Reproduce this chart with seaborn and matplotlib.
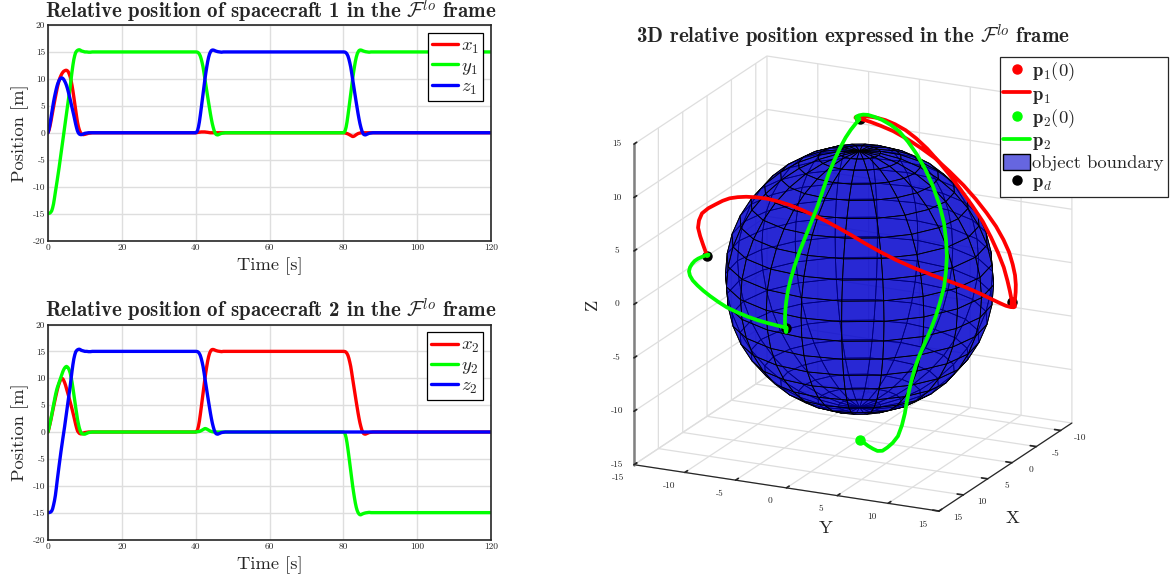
import matplotlib
matplotlib.use("Agg")

import matplotlib.pyplot as plt
from matplotlib.lines import Line2D
from matplotlib.patches import Patch
from mpl_toolkits.mplot3d import proj3d
import numpy as np
import pandas as pd
import seaborn as sns

# ── Data ──
t_start = [0, 0.25, 0.5, 0.75, 1, 1.25, 1.5, 1.75, 2, 2.25, 2.5, 2.75, 3, 3.25, 3.5, 3.75, 4, 4.25, 4.5,
           4.75, 5, 5.25, 5.5, 5.75, 6, 6.25, 6.5, 6.75, 7, 7.25, 7.5, 7.75, 8, 8.25, 8.5, 8.75, 9,
           9.5, 10, 10.5, 11, 11.5, 12]
t_hold1 = [16, 25, 32, 38, 39.5]
t_step1 = [40, 40.25, 40.5, 40.75, 41, 41.25, 41.5, 41.75, 42, 42.25, 42.5, 42.75, 43, 43.25, 43.5,
           43.75, 44, 44.25, 44.5, 44.75, 45, 45.25, 45.5, 45.75, 46, 46.5, 47, 47.5, 48]
t_hold2 = [52, 60, 70, 78, 79.5]
t_step2 = [80, 80.25, 80.5, 80.75, 81, 81.25, 81.5, 81.75, 82, 82.25, 82.5, 82.75, 83, 83.25, 83.5,
           83.75, 84, 84.25, 84.5, 84.75, 85, 85.25, 85.5, 85.75, 86, 86.5, 87, 87.5, 88]
t_hold3 = [92, 100, 110, 120]
time = t_start + t_hold1 + t_step1 + t_hold2 + t_step2 + t_hold3

rise = [0, 0.1, 0.4, 1.05, 2, 3.2, 4.5, 5.85, 7.2, 8.55, 9.9, 11.1, 12.2, 13.2, 14, 14.6, 15, 15.25, 15.35,
        15.35, 15.3, 15.22, 15.15, 15.1, 15.05, 15, 14.95, 15, 15]
fall = [15, 14.99, 14.95, 14.83, 14.6, 14.25, 13.7, 13, 12.2, 11.15, 10, 8.9, 7.8, 6.7, 5.6, 4.55, 3.5, 2.55,
        1.7, 1, 0.4, -0.02, -0.3, -0.38, -0.4, -0.25, -0.1, -0.05, 0]
zero_step = [0] * 29

x1_start = [0, 0.45, 1.1, 1.95, 2.9, 3.85, 4.8, 5.7, 6.6, 7.45, 8.3, 9.05, 9.7, 10.2, 10.6, 10.95, 11.2, 11.4,
            11.5, 11.58, 11.6, 11.5, 11.3, 10.9, 10.4, 9.7, 8.8, 7.75, 6.6, 5.4, 4.2, 3, 1.9, 1.1, 0.5, 0.1, -0.2,
            -0.35, -0.3, -0.2, -0.1, -0.05, 0]
y1_start = [-15, -14.97, -14.9, -14.75, -14.5, -13.95, -13.2, -12.15, -11, -9.9, -8.8, -7.65, -6.5, -5.25, -4,
            -2.75, -1.5, -0.25, 1, 2.25, 3.5, 4.75, 6, 7.25, 8.5, 9.9, 11.3, 12.55, 13.6, 14.35, 14.9, 15.15,
            15.3, 15.38, 15.4, 15.33, 15.2, 15.1, 15, 15, 14.95, 14.95, 15]
z1_start = [0, 0.65, 1.5, 2.5, 3.6, 4.65, 5.7, 6.6, 7.4, 8.15, 8.8, 9.3, 9.7, 9.98, 10.15, 10.18, 10.1, 9.9, 9.6,
            9.25, 8.8, 8.25, 7.6, 6.9, 6.2, 5.45, 4.7, 3.95, 3.2, 2.4, 1.6, 0.9, 0.3, -0.05, -0.25, -0.33, -0.35,
            -0.25, -0.1, -0.05, 0, 0, 0]
x1_bump = [0, 0.02, 0.05, 0.08, 0.1, 0.12, 0.15, 0.15, 0.15, 0.15, 0.15, 0.12, 0.1, 0.08, 0.05, 0.02,
           0, 0, 0, 0, 0, 0, 0, 0, 0, 0, 0, 0, 0]
x1_dip = [0, -0.02, -0.05, -0.1, -0.15, -0.22, -0.3, -0.4, -0.5, -0.6, -0.7, -0.68, -0.6, -0.48, -0.35, -0.25,
          -0.15, -0.1, -0.05, -0.02, 0, 0, 0, 0, 0, 0, 0, 0, 0]

x2_start = [0, 0.65, 1.4, 2.15, 3, 3.85, 4.7, 5.5, 6.3, 7.05, 7.8, 8.45, 9, 9.45, 9.8, 9.95, 9.9, 9.6, 9.2, 8.7,
            8.1, 7.5, 6.9, 6.25, 5.6, 4.95, 4.3, 3.6, 2.9, 2.15, 1.4, 0.75, 0.2, -0.05, -0.25, -0.33, -0.35,
            -0.2, -0.1, -0.05, 0, 0, 0]
y2_start = [0, 0.75, 1.5, 2.35, 3.2, 4.1, 5, 5.9, 6.8, 7.55, 8.2, 8.7, 9.2, 9.7, 10.2, 10.7, 11.2, 11.6, 11.9,
            12.1, 12.2, 12.1, 11.9, 11.5, 11, 10.25, 9.3, 8.2, 7, 5.8, 4.6, 3.45, 2.3, 1.45, 0.7, 0.2, -0.2,
            -0.4, -0.4, -0.25, -0.1, -0.05, 0]
z2_start = [-15, -15, -14.95, -14.88, -14.7, -14.3, -13.6, -12.8, -11.8, -10.45, -9, -7.65, -6.3, -5, -3.7, -2.5,
            -1.3, -0.15, 1, 2.25, 3.5, 4.75, 6, 7.25, 8.5, 9.9, 11.3, 12.55, 13.6, 14.35, 14.9, 15.15, 15.3,
            15.38, 15.4, 15.33, 15.2, 15.1, 15, 15, 14.95, 14.95, 15]
y2_bump = [0, 0.02, 0.05, 0.08, 0.1, 0.17, 0.25, 0.35, 0.45, 0.55, 0.65, 0.62, 0.55, 0.45, 0.35, 0.25, 0.15, 0.1,
           0.05, 0.02, 0, 0, 0, 0, 0, 0, 0, 0, 0]
y2_drop = [0, -0.1, -0.4, -1.05, -2, -3.2, -4.5, -5.85, -7.2, -8.55, -9.9, -11.1, -12.2, -13.2, -14, -14.6, -15,
           -15.25, -15.4, -15.4, -15.3, -15.22, -15.15, -15.1, -15.05, -15, -14.95, -15, -15]

x1 = x1_start + [0] * 5 + x1_bump + [0] * 5 + x1_dip + [0] * 4
y1 = y1_start + [15] * 5 + fall + [0] * 5 + rise + [15] * 4
z1 = z1_start + [0] * 5 + rise + [15] * 5 + fall + [0] * 4
x2 = x2_start + [0] * 5 + rise + [15] * 5 + fall + [0] * 4
y2 = y2_start + [0] * 5 + y2_bump + [0] * 5 + y2_drop + [-15] * 4
z2 = z2_start + [15] * 5 + fall + [0] * 5 + zero_step + [0] * 4

# p_d targets
pd_x = [0, 0, 0, 15]
pd_y = [15, -15, 0, 0]
pd_z = [0, 0, 15, 0]
sphere_radius = 12

time_ticks = [0, 20, 40, 60, 80, 100, 120]
pos_ticks = [-20, -15, -10, -5, 0, 5, 10, 15, 20]
x3d_ticks = [-10, -5, 0, 5, 10, 15]
yz3d_ticks = [-15, -10, -5, 0, 5, 10, 15]

RED, GREEN, BLUE = "#ff0000", "#00ff00", "#0000ff"
DARK = "#262626"
W, H = 1176, 580

# ── Setup ──
sns.set_theme(style="whitegrid")
plt.rcParams["font.family"] = ["cmr10", "DejaVu Sans"]
plt.rcParams["mathtext.fontset"] = "cm"
plt.rcParams["axes.unicode_minus"] = False
plt.rcParams["axes.edgecolor"] = DARK
plt.rcParams["text.color"] = DARK
plt.rcParams["axes.labelcolor"] = DARK
plt.rcParams["xtick.color"] = DARK
plt.rcParams["ytick.color"] = DARK

fig = plt.figure(figsize=(W / 100, H / 100), dpi=100, facecolor="white")


def px_axes(left, top, right, bottom, **kw):
    return fig.add_axes([left / W, 1 - bottom / H, (right - left) / W, (bottom - top) / H], **kw)


def time_panel(top, bottom, series, labels, n):
    ax = px_axes(48, top, 491, bottom)
    df = pd.DataFrame({"t": time * 3,
                       "value": series[0] + series[1] + series[2],
                       "name": sum([[lab] * len(time) for lab in labels], [])})
    sns.lineplot(data=df, x="t", y="value", hue="name", estimator=None, sort=False,
                 palette=dict(zip(labels, [RED, GREEN, BLUE])), linewidth=2.4, ax=ax)
    ax.set_xlim(0, 120)
    ax.set_ylim(-20, 20)
    ax.set_xticks(time_ticks, [str(v) for v in time_ticks])
    ax.set_yticks(pos_ticks, [str(v) for v in pos_ticks])
    ax.tick_params(labelsize=6.8, length=3, width=0.6, direction="in", pad=2)
    ax.grid(color="#dedede", linewidth=1)
    for s in ax.spines.values():
        s.set_linewidth(1.2)
    ax.set_xlabel("Time [s]", fontsize=13.3, labelpad=4)
    ax.set_ylabel("Position [m]", fontsize=13.3, labelpad=3)
    ax.set_title(rf"Relative position of spacecraft {n} in the $\mathcal{{F}}^{{lo}}$ frame",
                 fontsize=15, family="cmb10", pad=4.5, x=0.502)
    handles, names = ax.get_legend_handles_labels()
    leg = ax.legend(handles, names, loc="upper right", bbox_to_anchor=(0.9825, 0.965),
                    fontsize=13.5, frameon=True, fancybox=False, framealpha=1, edgecolor="black",
                    handlelength=1.4, handletextpad=0.15, labelspacing=0.05, borderpad=0.22,
                    borderaxespad=0)
    leg.get_frame().set_linewidth(0.9)
    return ax


time_panel(25, 240.5, [x1, y1, z1], ["$x_1$", "$y_1$", "$z_1$"], 1)
time_panel(324.5, 539.5, [x2, y2, z2], ["$x_2$", "$y_2$", "$z_2$"], 2)

# ── 3D trajectories ──
ax3 = fig.add_axes([569.5 / W, 13 / H, 552 / W, 552 / H], projection="3d", proj_type="ortho",
                   computed_zorder=False)
ax3.set_facecolor("none")
ax3.view_init(elev=18.5, azim=25.6)
ax3.set_xlim(-12.3, 15, view_margin=0)
ax3.set_ylim(-15, 15, view_margin=0)
ax3.set_zlim(-15, 15, view_margin=0)
ax3.set_box_aspect((27.3, 30, 30))

lon = np.linspace(0, 2 * np.pi, 21)
lat = np.linspace(-np.pi / 2, np.pi / 2, 21)
sx = sphere_radius * np.outer(np.cos(lat), np.cos(lon))
sy = sphere_radius * np.outer(np.cos(lat), np.sin(lon))
sz = sphere_radius * np.outer(np.sin(lat), np.ones_like(lon))
ax3.plot_surface(sx, sy, sz, rstride=1, cstride=1, color=(0, 0, 0.8, 0.6), edgecolor="black",
                 linewidth=0.6, shade=False, zorder=2)

ax3.plot(pd_x, pd_y, pd_z, "o", color="black", ms=6.5, zorder=3)
ax3.plot(x1, y1, z1, color=RED, lw=2.7, zorder=4)
ax3.plot(x2, y2, z2, color=GREEN, lw=2.7, zorder=5)
ax3.plot(x2[:1], y2[:1], z2[:1], "o", color=GREEN, ms=6.5, zorder=5)

ax3.set_xticks(x3d_ticks)
ax3.set_yticks(yz3d_ticks)
ax3.set_zticks(yz3d_ticks)


def tick_text(x, y, z, s):
    # mplot3d resets tick label transforms, so the labels go in as 2D text just off each axis
    px, py, _ = proj3d.proj_transform(x, y, z, ax3.get_proj())
    ax3.text2D(px, py, s, transform=ax3.transData, fontsize=6.8, ha="center", va="center", color=DARK)


for v in x3d_ticks:
    tick_text(v, 16.87, -15.39, str(v))
for v in yz3d_ticks:
    tick_text(18.29, v, -15.25, str(v))
    tick_text(18.47, -15, v + 1.06, str(v))
for axis in (ax3.xaxis, ax3.yaxis, ax3.zaxis):
    axis.set_tick_params(label1On=False)
    axis.set_pane_color((1, 1, 1, 0))
    axis.pane.set_edgecolor("#dedede")
    axis._axinfo["grid"].update(color="#dedede", linewidth=0.9)
    axis._axinfo["tick"].update(inward_factor=0, outward_factor=0.25)
    axis.line.set_color(DARK)
    axis.line.set_linewidth(0.9)
ax3.zaxis.line.set_color("#808080")
ax3.zaxis.line.set_linewidth(1.8)

fig.text(1013 / W, 1 - 518 / H, "X", fontsize=13.3, ha="center", va="center")
fig.text(826 / W, 1 - 528 / H, "Y", fontsize=13.3, ha="center", va="center")
fig.text(592 / W, 1 - 304 / H, "Z", fontsize=13.3, ha="center", va="center", rotation=90)

fig.text(853 / W, 1 - 37 / H, r"3D relative position expressed in the $\mathcal{F}^{lo}$ frame",
         fontsize=15, family="cmb10", ha="center", va="center")

handles = [
    Line2D([], [], marker="o", ls="none", color=RED, ms=6.5),
    Line2D([], [], color=RED, lw=2.7),
    Line2D([], [], marker="o", ls="none", color=GREEN, ms=6.5),
    Line2D([], [], color=GREEN, lw=2.7),
    Patch(facecolor=(0, 0, 0.8, 0.6), edgecolor="black"),
    Line2D([], [], marker="o", ls="none", color="black", ms=6.5),
]
labels = [r"$\mathbf{p}_1(0)$", r"$\mathbf{p}_1$", r"$\mathbf{p}_2(0)$", r"$\mathbf{p}_2$",
          "object boundary", r"$\mathbf{p}_d$"]
leg = fig.legend(handles, labels, loc="upper right", bbox_to_anchor=(1167.5 / W, 1 - 57 / H),
                 fontsize=13.4, frameon=True, fancybox=False, framealpha=1, edgecolor=DARK,
                 handlelength=1.45, handleheight=0.95, handletextpad=0.1, labelspacing=0.09, borderpad=0.2,
                 borderaxespad=0)
leg.get_frame().set_linewidth(0.9)

fig.savefig("out.png", dpi=100)
